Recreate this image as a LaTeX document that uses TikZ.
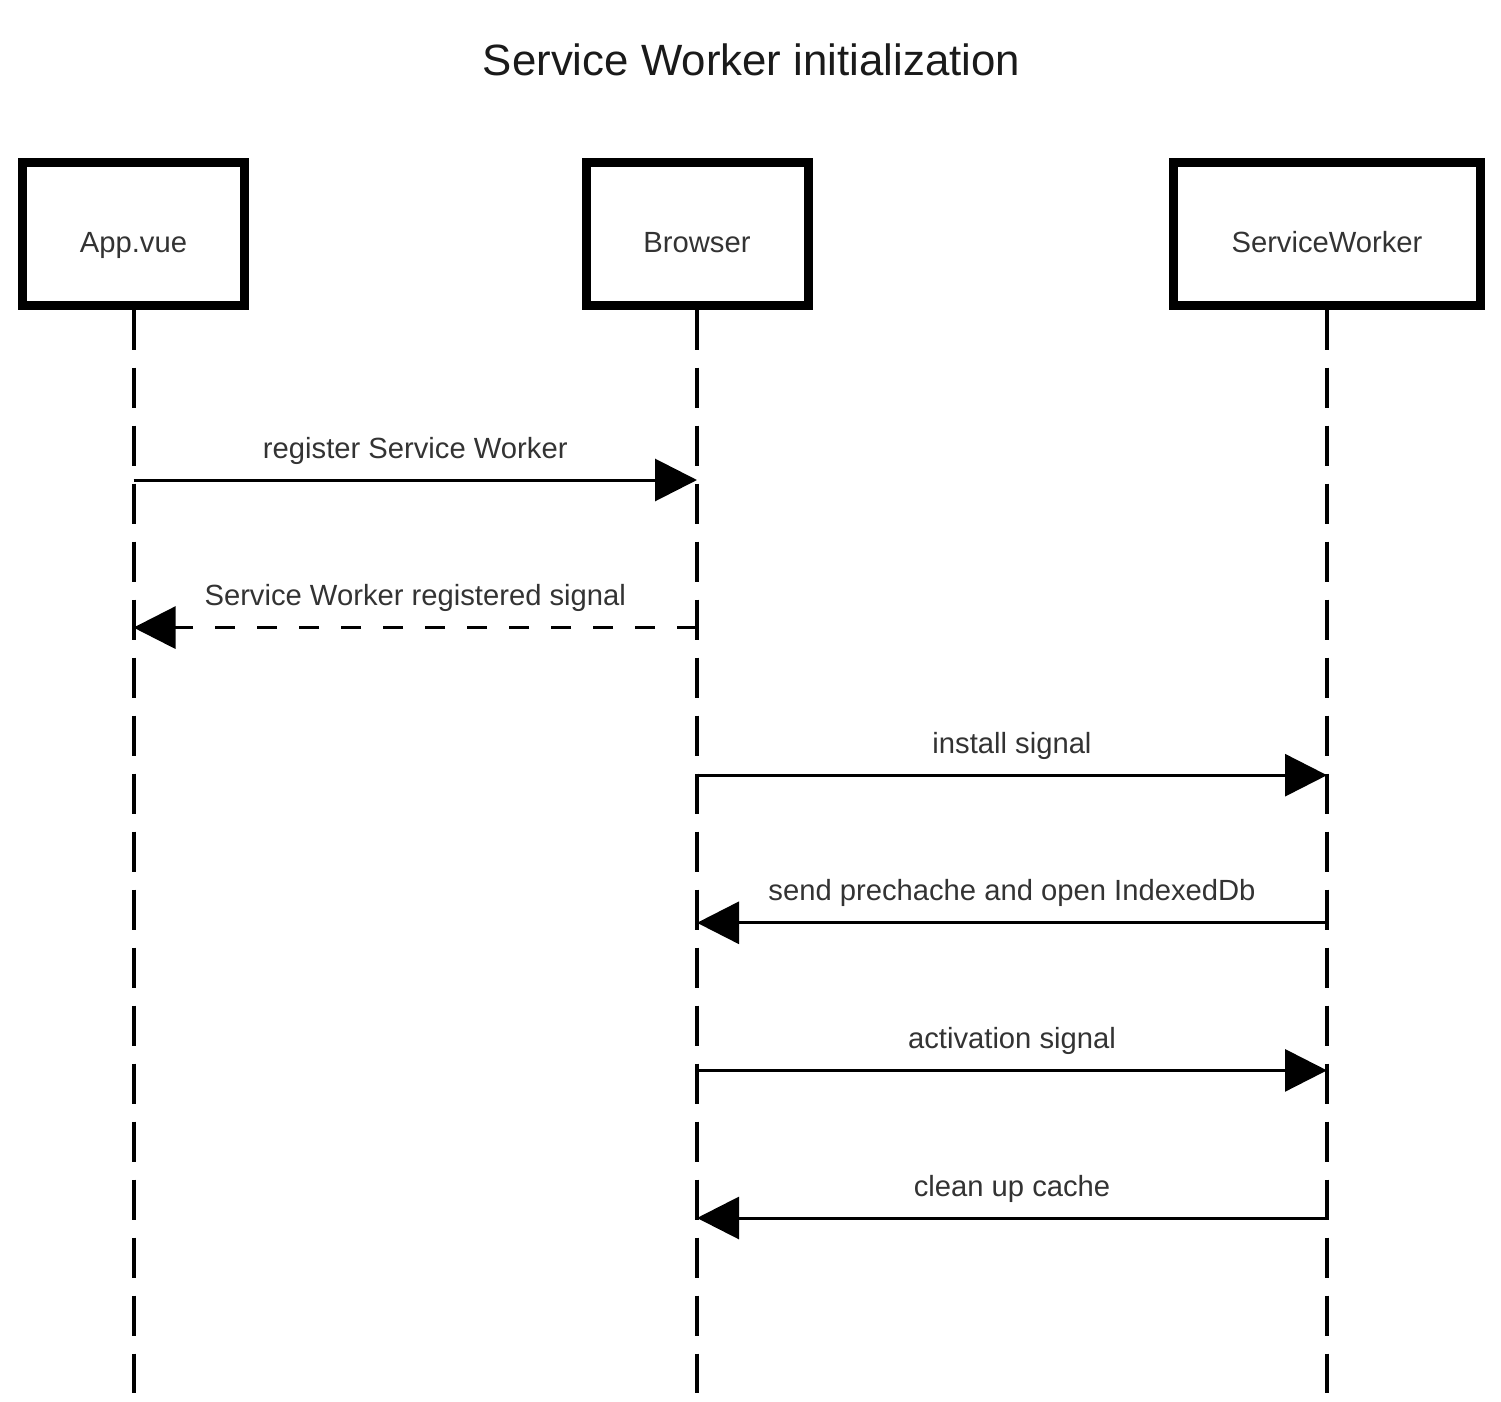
\documentclass[tikz,border=0pt]{standalone}
\usepackage{fontspec}
\setmainfont{Liberation Sans}
\usetikzlibrary{arrows.meta}
\definecolor{lblgray}{RGB}{51,51,51}
\definecolor{titlegray}{RGB}{26,26,26}
\tikzset{every picture/.style={line width=0.75pt}}
\tikzset{
  actor/.style={draw, line width=4.5pt, minimum height=71pt, inner sep=0pt,
    text height=19pt, text depth=0pt, text=lblgray, font=\fontsize{14.6}{17}\selectfont},
  lifeline/.style={line width=2pt, dash pattern=on 20pt off 9pt},
  msg/.style={line width=1.5pt, -{Triangle[length=21pt,width=21pt]}},
  reply/.style={msg, dash pattern=on 10pt off 11pt},
  msglabel/.style={anchor=base, yshift=11pt, inner sep=0pt, text=lblgray,
    font=\fontsize{14.6}{17}\selectfont}
}
\begin{document}
\begin{tikzpicture}[x=0.5pt,y=0.5pt,yscale=-1,xscale=1]
\useasboundingbox (0,0) rectangle (1501,1402);

% Text Node
\node (title) [anchor=base, inner sep=0pt, text=titlegray, font=\fontsize{21.9}{26}\selectfont] at (751.5,76) {Service Worker initialization};

%Shape: Rectangle
\node (app) [actor, minimum width=111pt] at (133.5,234) {App.vue};
%Shape: Rectangle
\node (brw) [actor, minimum width=111pt] at (697,234) {Browser};
%Shape: Rectangle
\node (sw) [actor, minimum width=153.25pt] at (1327,234) {ServiceWorker};

\coordinate (bottom) at (0,1393);
\coordinate (m1) at (0,480);
\coordinate (m2) at (0,627.6);
\coordinate (m3) at (0,775.2);
\coordinate (m4) at (0,922.8);
\coordinate (m5) at (0,1070.4);
\coordinate (m6) at (0,1218);

%Straight Lines
\draw [lifeline] (app.south) -- (app |- bottom);
\draw [lifeline] (brw.south) -- (brw |- bottom);
\draw [lifeline] (sw.south) -- (sw |- bottom);

%Straight Lines
\draw [msg] (app |- m1) -- node [msglabel] {register Service Worker} (brw |- m1);
\draw [reply] (brw |- m2) -- node [msglabel] {Service Worker registered signal} (app |- m2);
\draw [msg] (brw |- m3) -- node [msglabel] {install signal} (sw |- m3);
\draw [msg] (sw |- m4) -- node [msglabel] {send prechache and open IndexedDb} (brw |- m4);
\draw [msg] (brw |- m5) -- node [msglabel] {activation signal} (sw |- m5);
\draw [msg] (sw |- m6) -- node [msglabel] {clean up cache} (brw |- m6);

\end{tikzpicture}
\end{document}
